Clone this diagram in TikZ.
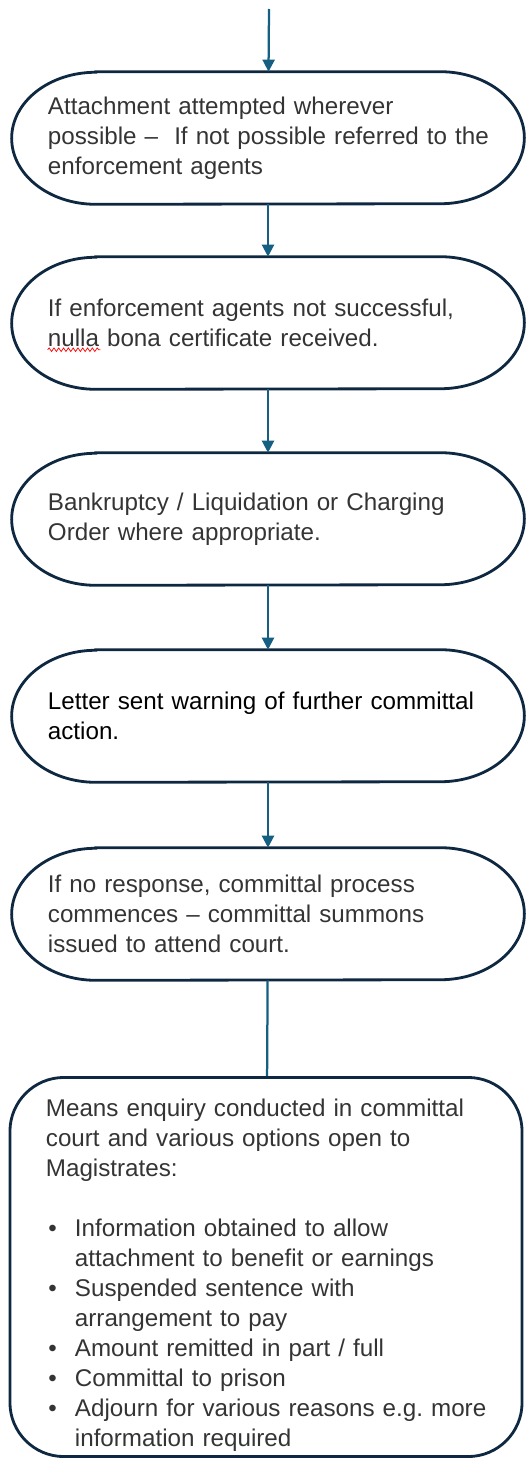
\documentclass[tikz,border=0pt]{standalone}
\usepackage{fontspec}
\setmainfont{Liberation Sans}
\frenchspacing
\usetikzlibrary{arrows.meta,decorations.pathmorphing}
\definecolor{ec}{RGB}{14,40,65}
\definecolor{ac}{RGB}{21,96,130}
\definecolor{tc}{RGB}{52,52,52}
\newcommand\bul{\makebox[7.25mm][l]{\hspace{.6mm}\textbullet}}
\newcommand\ind{\hspace*{7.25mm}}
\tikzset{term/.style={minimum width=12.8cm,minimum height=3.3cm,text width=12cm,align=left,inner sep=0pt,text=tc,
   execute at begin node={\leftskip=5mm}},
 rbox/.style={term,draw=ec,line width=2pt,rounded corners=1.35cm,minimum height=9.475cm},
 outl/.style={draw=ec,line width=2pt},
 arr/.style={-{Triangle[length=3mm,width=3mm]},line width=1.6pt,ac},
 wire/.style={line width=1.6pt,ac},
 squig/.style={red,line width=.5pt,decorate,decoration={snake,segment length=1.2mm,amplitude=.45mm}},
 every node/.style={font=\fontsize{17.2}{21.3}\selectfont}}
\begin{document}
\begin{tikzpicture}[x=.025cm,y=.025cm]
\useasboundingbox (0,0) rectangle (526,-1459);
\coordinate (s) at (269,-9);
\node[term] (t1) at (268,-138) {Attachment attempted wherever\\possible --\ \ If not possible referred to the\\enforcement agents};
\node[term] (t2) at (268,-323) {If enforcement agents not successful,\\nulla bona certificate received.};
\node[term] (t3) at (268,-519) {Bankruptcy / Liquidation or Charging\\Order where appropriate.};
\node[term,text=black] (t4) at (268,-716) {Letter sent warning of further committal\\action.};
\node[term] (t5) at (268,-914) {If no response, committal process\\commences -- committal summons\\issued to attend court.};
\node[rbox] (m) at (266,-1267) {\rule{0pt}{24pt}Means enquiry conducted in committal\\court and various options open to\\Magistrates:\\[7.5mm]
\bul Information obtained to allow\\\ind attachment to benefit or earnings\\\bul Suspended sentence with\\\ind arrangement to pay\\\bul Amount remitted in part / full\\\bul Committal to prison\\\bul Adjourn for various reasons e.g. more\\\ind information required};
\foreach \n in {t1,t2,t3,t4,t5}
 \draw[outl] ([xshift=2.1cm]\n.north west) -- ([xshift=-2.1cm]\n.north east) arc[start angle=90,end angle=-90,x radius=2.1cm,y radius=1.65cm]
  -- ([xshift=2.1cm]\n.south west) arc[start angle=270,end angle=90,x radius=2.1cm,y radius=1.65cm] -- cycle;
\draw[squig] ([xshift=.9cm,yshift=-19pt]t2.west) -- ++(1.32cm,0);
\draw[arr] (s)--(t1);\draw[arr] (t1)--(t2);\draw[arr] (t2)--(t3);
\draw[arr] (t3)--(t4);\draw[arr] (t4)--(t5);\draw[wire] (t5)--(m);
\end{tikzpicture}
\end{document}
